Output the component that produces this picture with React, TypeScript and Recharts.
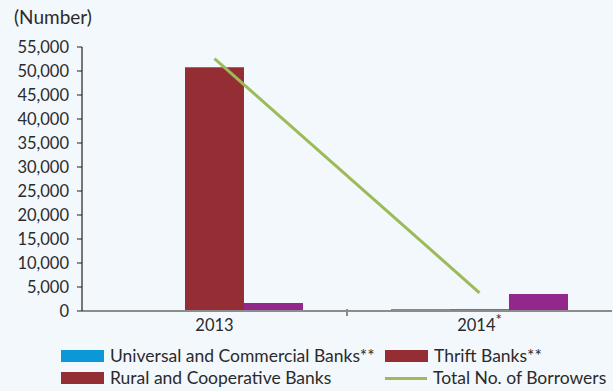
import React from 'react';
import { ComposedChart, Bar, Line, XAxis, YAxis, Legend } from 'recharts';

// Borrower counts by bank type
const categories = ['2013', '2014'];
const categoryNotes = ['', '*'];
const universalCommercial = [0, 350];
const thriftBanks = [50800, 350];
const ruralCooperative = [1670, 3540];
const totalBorrowers = [52600, 3800];
const yTicks = [0, 5000, 10000, 15000, 20000, 25000, 30000, 35000, 40000, 45000, 50000, 55000];

const legendItems = [
  { label: 'Universal and Commercial Banks**', color: '#0A98D6', kind: 'rect' },
  { label: 'Thrift Banks**', color: '#952D35', kind: 'rect' },
  { label: 'Rural and Cooperative Banks', color: '#952D35', kind: 'rect' },
  { label: 'Total No. of Borrowers', color: '#9BBB59', kind: 'line' },
];

const data = categories.map((year, i) => ({
  year,
  note: categoryNotes[i],
  universal: universalCommercial[i],
  thrift: thriftBanks[i],
  rural: ruralCooperative[i],
  total: totalBorrowers[i],
}));

const FONT = 'Lato, "Open Sans", sans-serif';
const TEXT = '#2b2a2b';

const YearTick = (props: any) => {
  const { x, y, payload } = props;
  const note = categoryNotes[payload.index] || '';
  const boundary = payload.offset ? x + payload.offset : null;
  return (
    <g>
      {payload.index === 0 && boundary !== null && (
        <line x1={boundary} x2={boundary} y1={y - 10} y2={y - 3} stroke="#8C8C8C" strokeWidth={2} />
      )}
      <text x={x} y={y + 12} textAnchor="middle" fontFamily={FONT} fontSize={16.5} fill={TEXT}>
        {payload.value}
        {note && (
          <tspan dy={-6} fontSize={15}>
            {note}
          </tspan>
        )}
      </text>
    </g>
  );
};

const LegendBox = () => (
  <div style={{ position: 'relative', width: 613, height: 46, fontFamily: FONT, fontSize: 17.5, color: TEXT }}>
    {legendItems.map((item, i) => {
      const col = i % 2;
      const row = Math.floor(i / 2);
      const left = col === 0 ? 61 : 385;
      const top = row === 0 ? 0 : 22;
      return (
        <div key={item.label} style={{ position: 'absolute', left, top, height: 22, display: 'flex', alignItems: 'center', whiteSpace: 'nowrap' }}>
          {item.kind === 'rect' ? (
            <span style={{ display: 'inline-block', width: 43, height: 12, background: item.color }} />
          ) : (
            <span style={{ display: 'inline-block', width: 42, height: 3, background: item.color }} />
          )}
          <span style={{ marginLeft: 6, lineHeight: '22px' }}>{item.label}</span>
        </div>
      );
    })}
  </div>
);

export default function App() {
  return (
    <div style={{ position: 'absolute', left: 0, top: 0, width: 613, height: 391, background: '#F3F8FC' }}>
      <div style={{ position: 'absolute', left: 14, top: 5, fontFamily: FONT, fontSize: 19, color: TEXT }}>(Number)</div>
      <ComposedChart
        width={613}
        height={391}
        data={data}
        margin={{ top: 47, right: 1, left: 0, bottom: 0 }}
        barCategoryGap="16.6%"
        barGap={0}
      >
        <XAxis
          dataKey="year"
          axisLine={{ stroke: '#8C8C8C', strokeWidth: 2 }}
          tickLine={false}
          height={34}
          tick={<YearTick />}
          interval={0}
        />
        <YAxis
          domain={[0, 55000]}
          ticks={yTicks}
          interval={0}
          width={82}
          tickSize={5}
          tickMargin={8}
          axisLine={{ stroke: '#231F20', strokeWidth: 1.2 }}
          tickLine={{ stroke: '#231F20' }}
          tick={{ fontFamily: FONT, fontSize: 16.5, fill: TEXT }}
          tickFormatter={(v: number) => v.toLocaleString('en-US')}
        />
        <Bar dataKey="universal" fill="#0A80B8" isAnimationActive={false} />
        <Bar dataKey="thrift" fill="#952D35" isAnimationActive={false} />
        <Bar dataKey="rural" fill="#92278C" isAnimationActive={false} />
        <Line dataKey="total" stroke="#9BBB59" strokeWidth={3} dot={false} isAnimationActive={false} />
        <Legend
          verticalAlign="bottom"
          height={46}
          content={<LegendBox />}
          wrapperStyle={{ left: 0, bottom: 0, width: 613, height: 46 }}
        />
      </ComposedChart>
    </div>
  );
}
